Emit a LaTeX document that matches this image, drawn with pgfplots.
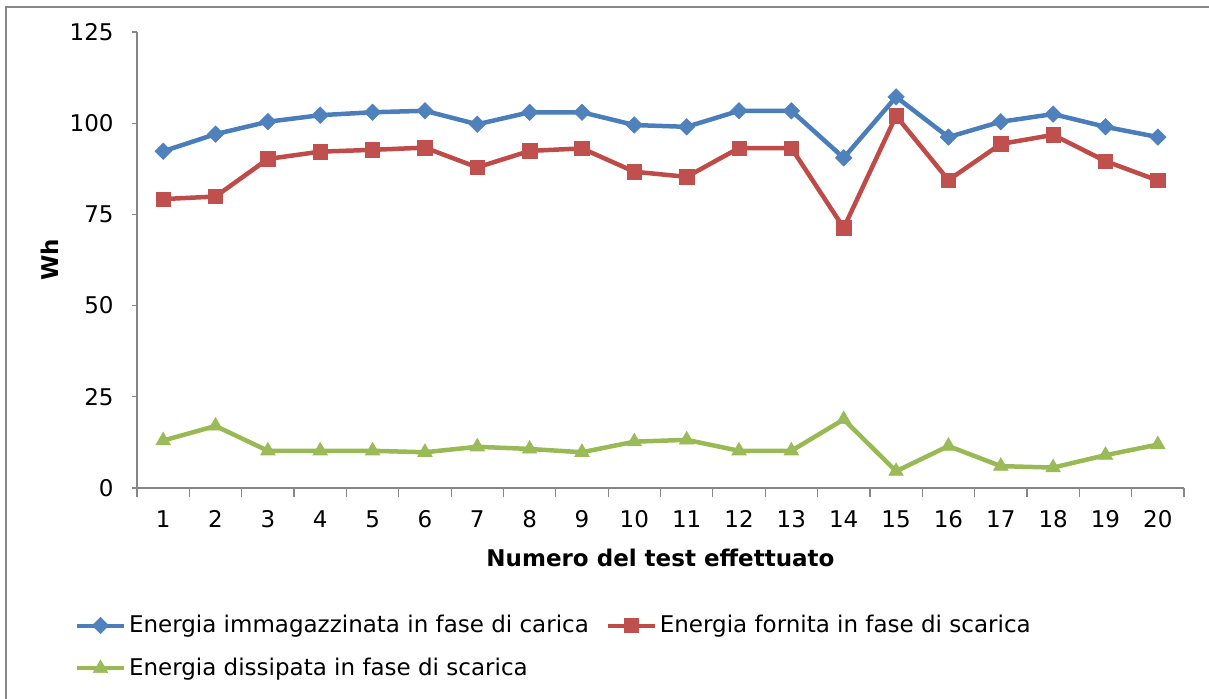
\documentclass[border=0pt]{standalone}
\usepackage{fontspec}
\setmainfont{DejaVu Sans}
\usepackage{pgfplots}
\pgfplotsset{compat=1.18}
\definecolor{axgray}{HTML}{868686}
\definecolor{sblue}{HTML}{4A7EBB}
\definecolor{mblue}{HTML}{4F81BD}
\definecolor{sred}{HTML}{BE4B48}
\definecolor{mred}{HTML}{C0504D}
\definecolor{sgreen}{HTML}{98B954}
\definecolor{mgreen}{HTML}{9BBB59}
\begin{document}
\fontsize{11.5}{14}\selectfont
\begin{tikzpicture}
\useasboundingbox (0pt,0pt) rectangle (604.5pt,349pt);
\draw[axgray, line width=0.6pt] (3pt,-5pt) -- (3pt,345.5pt) -- (615pt,345.5pt);
\begin{axis}[
  at={(68.5pt,105pt)}, anchor=south west,
  scale only axis, width=523.5pt, height=228pt,
  xmin=0.5, xmax=20.5, ymin=0, ymax=125,
  axis x line*=bottom, axis y line*=left,
  axis line style={axgray, line width=0.6pt, -},
  xtick={1,...,20},
  minor xtick={0.5,1.5,...,20.5},
  ytick={0,25,...,125},
  tick align=outside,
  major tick length=2.5pt,
  minor tick length=4.5pt,
  major x tick style={draw=none},
  tick style={axgray, line width=0.6pt},
  /pgf/number format/assume math mode=true,
  yticklabel style={anchor=east, inner sep=0pt, xshift=-9pt},
  xticklabel style={anchor=north, inner sep=0pt, yshift=-8.5pt},
  ticklabel style={font=\fontsize{11.5}{14}\selectfont},
  xlabel={\textbf{Numero del test effettuato}},
  ylabel={\textbf{Wh}},
  xlabel style={at={(axis description cs:0.5,-0.1535)}, anchor=center, inner sep=0pt},
  ylabel style={at={(axis description cs:-0.0831,0.5)}, anchor=center, inner sep=0pt, rotate=0},
  legend columns=2,
  legend cell align=left,
  legend style={at={(axis description cs:-0.0592,-0.272)}, anchor=north west,
    draw=none, fill=none, inner sep=0pt, outer sep=0pt,
    /tikz/column sep=0pt, /tikz/row sep=8pt,
    /tikz/every even column/.append style={column sep=7pt},
    nodes={inner xsep=1.5pt, inner ysep=1.5pt},
    font=\fontsize{11.5}{14}\selectfont},
  legend image code/.code={\draw[mark repeat=2,mark phase=2,#1,line width=2pt] plot coordinates {(0pt,0pt) (11.75pt,0pt) (23.5pt,0pt)};},
  clip=false,
]
\addplot[sblue, line width=2.25pt, mark=square*, mark size=2.9pt, mark options={rotate=45, fill=mblue, draw=mblue, line width=0.3pt}]
coordinates {(1,92.3)(2,97.0)(3,100.4)(4,102.2)(5,103.0)(6,103.4)(7,99.7)(8,103.0)(9,103.0)(10,99.5)
(11,99.0)(12,103.4)(13,103.4)(14,90.5)(15,107.2)(16,96.2)(17,100.4)(18,102.5)(19,99.0)(20,96.2)};
\addlegendentry{Energia immagazzinata in fase di carica}
\addplot[sred, line width=2.25pt, mark=square*, mark size=3.6pt, mark options={fill=mred, draw=mred, line width=0.3pt}]
coordinates {(1,79.2)(2,79.9)(3,90.2)(4,92.2)(5,92.7)(6,93.3)(7,87.9)(8,92.4)(9,93.1)(10,86.7)
(11,85.3)(12,93.2)(13,93.2)(14,71.3)(15,102.0)(16,84.4)(17,94.3)(18,96.8)(19,89.6)(20,84.3)};
\addlegendentry{Energia fornita in fase di scarica}
\addplot[sgreen, line width=2.25pt, mark=triangle*, mark size=4.2pt, mark options={fill=mgreen, draw=mgreen, line width=0.3pt}]
coordinates {(1,13.0)(2,17.0)(3,10.2)(4,10.2)(5,10.2)(6,9.8)(7,11.3)(8,10.7)(9,9.8)(10,12.7)
(11,13.2)(12,10.2)(13,10.2)(14,18.8)(15,4.6)(16,11.5)(17,6.0)(18,5.6)(19,9.0)(20,11.9)};
\addlegendentry{Energia dissipata in fase di scarica}
\end{axis}
\end{tikzpicture}
\end{document}
